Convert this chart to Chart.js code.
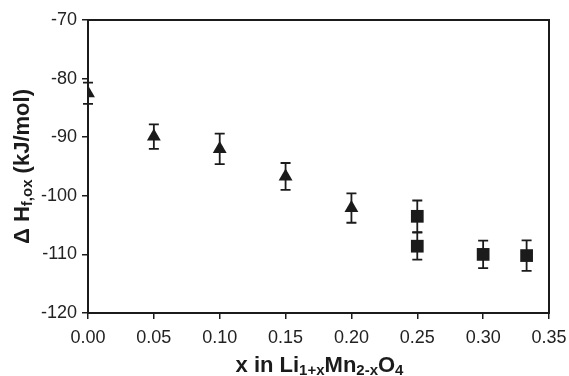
<!DOCTYPE html>
<html>
<head>
<meta charset="utf-8">
<script src="https://cdn.jsdelivr.net/npm/chart.js@4/dist/chart.umd.min.js"></script>
<style>
html,body{margin:0;padding:0;background:#fff;}
#wrap{width:569px;height:376px;position:relative;}
</style>
</head>
<body>
<div id="wrap"><canvas id="c" width="569" height="376"></canvas></div>
<script>
// Triangles: x, ΔH, error
const triX = [0.00, 0.05, 0.10, 0.15, 0.20];
const triY = [-82.5, -89.9, -92.0, -96.7, -102.1];
const triErr = [1.8, 2.1, 2.6, 2.3, 2.5];
// Squares
const sqX = [0.25, 0.25, 0.30, 0.333];
const sqY = [-103.5, -108.6, -110.0, -110.2];
const sqErr = [2.7, 2.3, 2.35, 2.6];
// Axis ticks
const xTicks = [0, 0.05, 0.10, 0.15, 0.20, 0.25, 0.30, 0.35];
const yTicks = [-120, -110, -100, -90, -80, -70];

const INK = '#1b1b1b';
const FONT = '"Liberation Sans", Arial, sans-serif';

const errData = [triErr, sqErr];

const errorBars = {
  id: 'errorBars',
  afterDatasetsDraw(chart) {
    const ctx = chart.ctx;
    const ys = chart.scales.y;
    ctx.save();
    ctx.strokeStyle = INK;
    ctx.lineWidth = 1.8;
    chart.data.datasets.forEach((ds, di) => {
      const meta = chart.getDatasetMeta(di);
      meta.data.forEach((pt, i) => {
        const v = ds.data[i].y, e = errData[di][i];
        const x = pt.x;
        const y1 = ys.getPixelForValue(v + e);
        const y2 = ys.getPixelForValue(v - e);
        ctx.beginPath();
        ctx.moveTo(x, y1); ctx.lineTo(x, y2);
        ctx.moveTo(x - 5, y1); ctx.lineTo(x + 5, y1);
        ctx.moveTo(x - 5, y2); ctx.lineTo(x + 5, y2);
        ctx.stroke();
      });
    });
    ctx.restore();
  }
};

function drawParts(ctx, parts, x, y, align) {
  const big = 'bold 22px ' + FONT, small = 'bold 15px ' + FONT;
  let total = 0;
  parts.forEach(p => { ctx.font = p.sub ? small : big; total += ctx.measureText(p.t).width; });
  let cx = align === 'center' ? x - total / 2 : x;
  ctx.textAlign = 'left';
  ctx.textBaseline = 'alphabetic';
  parts.forEach(p => {
    ctx.font = p.sub ? small : big;
    ctx.fillText(p.t, cx, y + (p.sub ? 3 : 0));
    cx += ctx.measureText(p.t).width;
  });
}

const frameAndTitles = {
  id: 'frameAndTitles',
  afterDraw(chart) {
    const ctx = chart.ctx, a = chart.chartArea;
    ctx.save();
    ctx.strokeStyle = INK;
    ctx.lineWidth = 2;
    ctx.strokeRect(a.left, a.top, a.right - a.left, a.bottom - a.top);
    ctx.fillStyle = INK;
    // x title
    drawParts(ctx, [
      {t: 'x in Li'}, {t: '1+x', sub: true}, {t: 'Mn'}, {t: '2-x', sub: true}, {t: 'O'}, {t: '4', sub: true}
    ], (a.left + a.right) / 2 + 1, 372, 'center');
    // y title
    ctx.translate(29, (a.top + a.bottom) / 2);
    ctx.rotate(-Math.PI / 2);
    drawParts(ctx, [
      {t: '\u0394 H'}, {t: 'f,ox', sub: true}, {t: ' (kJ/mol)'}
    ], 0, 0, 'center');
    ctx.restore();
  }
};

new Chart(document.getElementById('c'), {
  type: 'scatter',
  data: {
    datasets: [
      {
        data: triX.map((x, i) => ({x: x, y: triY[i]})),
        pointStyle: 'triangle', pointRadius: 8, pointHoverRadius: 8,
        backgroundColor: INK, borderColor: INK, borderWidth: 0
      },
      {
        data: sqX.map((x, i) => ({x: x, y: sqY[i]})),
        pointStyle: 'rect', pointRadius: 9, pointHoverRadius: 9,
        backgroundColor: INK, borderColor: INK, borderWidth: 0
      }
    ]
  },
  plugins: [errorBars, frameAndTitles],
  options: {
    responsive: false,
    animation: false,
    events: [],
    layout: { padding: { top: 20, right: 20, left: 0, bottom: 0 } },
    plugins: { legend: { display: false }, tooltip: { enabled: false } },
    scales: {
      x: {
        type: 'linear', min: 0, max: 0.35,
        afterBuildTicks: s => { s.ticks = xTicks.map(v => ({value: v})); },
        afterFit: s => { s.height = 63; s.paddingLeft = 0; s.paddingRight = 0; },
        border: { display: true, color: INK, width: 2 },
        grid: { drawOnChartArea: false, drawTicks: true, tickLength: 6, color: INK, lineWidth: 1.5 },
        ticks: { color: '#222', font: { family: FONT, size: 18 }, padding: 8, maxRotation: 0,
                 callback: v => Number(v).toFixed(2) }
      },
      y: {
        type: 'linear', min: -120, max: -70,
        afterBuildTicks: s => { s.ticks = yTicks.map(v => ({value: v})); },
        afterFit: s => { s.width = 88; s.paddingTop = 0; s.paddingBottom = 0; },
        border: { display: true, color: INK, width: 2 },
        grid: { drawOnChartArea: false, drawTicks: true, tickLength: 6, color: INK, lineWidth: 1.5 },
        ticks: { color: '#222', font: { family: FONT, size: 18 }, padding: 5,
                 callback: v => String(v) }
      }
    }
  }
});
</script>
</body>
</html>
